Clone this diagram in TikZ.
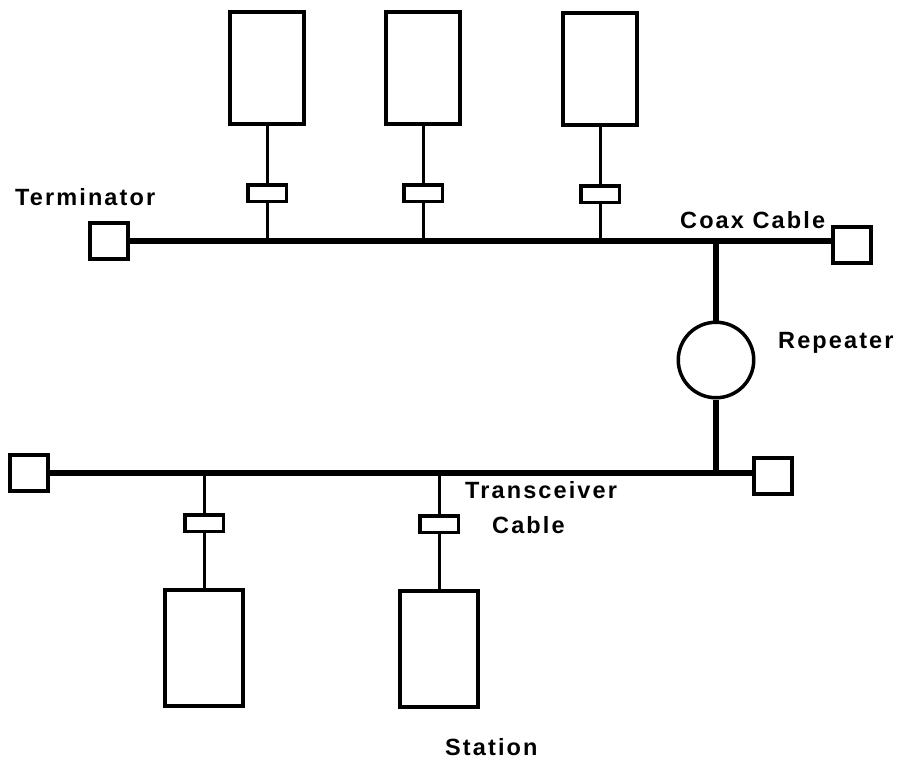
\documentclass[tikz,border=0pt]{standalone}
\usepackage{fontspec}
\usepackage{tikz}
\usetikzlibrary{positioning}
\newfontfamily\lblfont[LetterSpace=9]{Liberation Sans}

\begin{document}
\begin{tikzpicture}[
  x=1pt,y=-1pt,
  font=\lblfont\bfseries\fontsize{23.5}{28}\selectfont,
  stn/.style={draw,line width=4pt,minimum width=74pt,minimum height=112pt,inner sep=0pt},
  xcvr/.style={draw,line width=3.5pt,minimum width=38.5pt,minimum height=16.5pt,inner sep=0pt},
  term/.style={draw,line width=4pt,minimum width=38pt,minimum height=36pt,inner sep=0pt},
  rpt/.style={draw,circle,line width=3.5pt,minimum size=75.5pt,inner sep=0pt},
  lbl/.style={inner sep=0pt,anchor=base west},
  coax/.style={line width=5.5pt},
  drop/.style={line width=3pt}
]
\useasboundingbox (0,0) rectangle (902,765);

% upper segment
\node[term] (termtl) at (109,241) {};
\node[term] (termtr) at (852,245) {};
\draw[coax] (termtl.east) -- (termtr.west |- termtl.east);

\node[stn] (st1) at (267,68) {};
\node[stn] (st2) at (423,68) {};
\node[stn] (st3) at (600,69) {};
\node[xcvr,below=57pt of st1] (tr1) {};
\node[xcvr,below=57pt of st2] (tr2) {};
\node[xcvr,below=57pt of st3] (tr3) {};
\foreach \i in {1,2,3} {
  \draw[drop] (st\i) -- (tr\i);
  \draw[drop] (tr\i.south) -- (tr\i.south |- termtl.east);
}

% repeater
\node[rpt] (rep) at (716,360) {};
\draw[coax] (rep.north) -- (rep.north |- termtl.east);

% lower segment
\node[term] (termbl) at (29,473) {};
\node[term] (termbr) at (773,476) {};
\draw[coax] (termbl.east) -- (termbr.west |- termbl.east);
\draw[coax] (rep.south) -- (rep.south |- termbl.east);

\node[stn,minimum width=78pt,minimum height=116pt] (sl1) at (204,648) {};
\node[stn,minimum width=78pt,minimum height=116pt] (sl2) at (439,649) {};
\node[xcvr,above=55pt of sl1] (tl1) {};
\node[xcvr,above=55pt of sl2] (tl2) {};
\foreach \i in {1,2} {
  \draw[drop] (sl\i) -- (tl\i);
  \draw[drop] (tl\i.north) -- (tl\i.north |- termbl.east);
}

% labels
\node[lbl] (lblterm) at (15,205) {Terminator};
\node[lbl] (lblcoax) at (680,228) {Coax Cable};
\node[lbl] (lblrep) at (778,348) {Repeater};
\node[lbl] (lbltrx) at (465,498) {Transceiver};
\node[lbl] (lblcab) at (492,533) {Cable};
\node[lbl] (lblstn) at (445,755) {Station};
\end{tikzpicture}
\end{document}
